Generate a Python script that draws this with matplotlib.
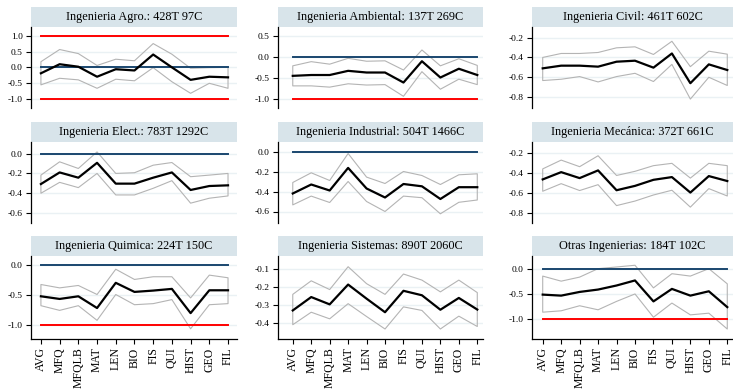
import numpy as np
import matplotlib
matplotlib.use("Agg")
import matplotlib.pyplot as plt
from matplotlib.patches import Rectangle

plt.rcParams['font.family'] = ['Liberation Serif', 'DejaVu Serif']
plt.rcParams['axes.unicode_minus'] = False

subjects = ["AVG", "MFQ", "MFQLB", "MAT", "LEN", "BIO", "FIS", "QUI", "HIST", "GEO", "FIL"]

titles = ["Ingenieria Agro.: 428T 97C",
          "Ingenieria Ambiental: 137T 269C",
          "Ingenieria Civil: 461T 602C",
          "Ingenieria Elect.: 783T 1292C",
          "Ingenieria Industrial: 504T 1466C",
          "Ingenieria Mecánica: 372T 661C",
          "Ingenieria Quimica: 224T 150C",
          "Ingenieria Sistemas: 890T 2060C",
          "Otras Ingenierias: 184T 102C"]

# point estimates
agro_mean = [-0.19, 0.10, 0.02, -0.30, -0.06, -0.10, 0.41, 0.0, -0.40, -0.30, -0.32]
ambi_mean = [-0.45, -0.43, -0.43, -0.33, -0.37, -0.37, -0.61, -0.10, -0.49, -0.28, -0.43]
civil_mean = [-0.51, -0.483, -0.483, -0.493, -0.443, -0.433, -0.503, -0.36, -0.66, -0.47, -0.527]
elect_mean = [-0.307, -0.19, -0.243, -0.093, -0.303, -0.303, -0.243, -0.19, -0.367, -0.327, -0.32]
indus_mean = [-0.42, -0.33, -0.39, -0.164, -0.37, -0.46, -0.325, -0.348, -0.475, -0.357, -0.357]
meca_mean = [-0.466, -0.394, -0.453, -0.377, -0.573, -0.53, -0.47, -0.443, -0.596, -0.433, -0.482]
quim_mean = [-0.52, -0.564, -0.52, -0.715, -0.296, -0.447, -0.425, -0.397, -0.80, -0.42, -0.42]
sist_mean = [-0.33, -0.255, -0.296, -0.185, -0.264, -0.34, -0.22, -0.245, -0.326, -0.26, -0.325]
otras_mean = [-0.513, -0.533, -0.46, -0.413, -0.333, -0.233, -0.647, -0.40, -0.533, -0.447, -0.76]

# upper CI
agro_hi = [0.18, 0.57, 0.44, 0.06, 0.26, 0.21, 0.76, 0.42, -0.03, -0.01, 0.0]
ambi_hi = [-0.21, -0.11, -0.17, -0.03, -0.10, -0.09, -0.31, 0.17, -0.21, -0.04, -0.20]
civil_hi = [-0.40, -0.36, -0.36, -0.35, -0.303, -0.293, -0.37, -0.237, -0.493, -0.337, -0.367]
elect_hi = [-0.217, -0.083, -0.15, 0.017, -0.20, -0.193, -0.117, -0.09, -0.233, -0.217, -0.20]
indus_hi = [-0.31, -0.213, -0.29, -0.02, -0.256, -0.32, -0.20, -0.24, -0.33, -0.233, -0.223]
meca_hi = [-0.362, -0.275, -0.34, -0.232, -0.427, -0.386, -0.33, -0.307, -0.453, -0.307, -0.33]
quim_hi = [-0.324, -0.38, -0.34, -0.49, -0.07, -0.24, -0.195, -0.195, -0.547, -0.168, -0.212]
sist_hi = [-0.24, -0.164, -0.213, -0.085, -0.18, -0.24, -0.126, -0.16, -0.226, -0.16, -0.23]
otras_hi = [-0.147, -0.247, -0.167, 0.0, 0.033, 0.067, -0.38, -0.10, -0.147, 0.0, -0.30]

# lower CI
agro_lo = [-0.56, -0.35, -0.40, -0.67, -0.38, -0.43, -0.01, -0.46, -0.83, -0.51, -0.67]
ambi_lo = [-0.69, -0.69, -0.72, -0.64, -0.67, -0.66, -0.94, -0.35, -0.77, -0.53, -0.66]
civil_lo = [-0.633, -0.62, -0.593, -0.647, -0.593, -0.56, -0.643, -0.47, -0.82, -0.60, -0.683]
elect_lo = [-0.40, -0.29, -0.343, -0.20, -0.417, -0.417, -0.35, -0.273, -0.50, -0.45, -0.427]
indus_lo = [-0.534, -0.446, -0.51, -0.30, -0.50, -0.60, -0.446, -0.462, -0.623, -0.508, -0.485]
meca_lo = [-0.583, -0.508, -0.576, -0.518, -0.725, -0.68, -0.62, -0.573, -0.74, -0.557, -0.63]
quim_lo = [-0.676, -0.754, -0.676, -0.92, -0.49, -0.66, -0.642, -0.575, -1.06, -0.66, -0.642]
sist_lo = [-0.41, -0.34, -0.377, -0.292, -0.364, -0.434, -0.31, -0.33, -0.434, -0.362, -0.42]
otras_lo = [-0.86, -0.833, -0.733, -0.813, -0.647, -0.50, -0.96, -0.68, -0.913, -0.88, -1.193]

means = [agro_mean, ambi_mean, civil_mean, elect_mean, indus_mean, meca_mean, quim_mean, sist_mean, otras_mean]
highs = [agro_hi, ambi_hi, civil_hi, elect_hi, indus_hi, meca_hi, quim_hi, sist_hi, otras_hi]
lows = [agro_lo, ambi_lo, civil_lo, elect_lo, indus_lo, meca_lo, quim_lo, sist_lo, otras_lo]

yticks = [[-1, -0.5, 0, 0.5, 1], [-1, -0.5, 0, 0.5], [-0.8, -0.6, -0.4, -0.2],
          [-0.6, -0.4, -0.2, 0], [-0.6, -0.4, -0.2, 0], [-0.8, -0.6, -0.4, -0.2],
          [-1, -0.5, 0], [-0.4, -0.3, -0.2, -0.1], [-1, -0.5, 0]]
ylims = [(-1.30, 1.29), (-1.22, 0.72), (-0.91, -0.093),
         (-0.70, 0.117), (-0.715, 0.095), (-0.897, -0.096),
         (-1.23, 0.15), (-0.49, -0.025), (-1.39, 0.25)]

W, H = 733, 389
col_px = [(31, 237), (278, 483), (532, 733)]
col_xlim = [(-0.53, 10.48), (-0.8, 10.31), (-0.58, 10.31)]
row_px = [(27, 108), (142, 223), (256, 339)]
title_h = 20

GRID = "#eaf1f4"
TBOX = "#d8e4ea"
NAVY = "#1a476f"

fig = plt.figure(figsize=(W / 100, H / 100), dpi=100)
x = np.arange(len(subjects))

for k in range(9):
    r, c = divmod(k, 3)
    x0, x1 = col_px[c]
    y0, y1 = row_px[r]
    ax = fig.add_axes([x0 / W, 1 - y1 / H, (x1 - x0) / W, (y1 - y0) / H])
    ax.set_xlim(col_xlim[c])
    ax.set_ylim(ylims[k])

    for t in yticks[k]:
        ax.axhline(t, color=GRID, lw=1.0, zorder=0)

    ax.fill_between(x, lows[k], highs[k], facecolor='none', edgecolor='#b4b4b4', lw=0.8, zorder=2)
    for ref, col in [(-1, 'red'), (1, 'red'), (0, NAVY)]:
        ax.plot([x[0], x[-1]], [ref, ref], color=col, lw=1.4, zorder=3)
    ax.plot(x, means[k], color='black', lw=1.6, zorder=4)

    for s in ['top', 'right']:
        ax.spines[s].set_visible(False)
    ax.spines['left'].set_linewidth(0.9)
    ax.set_yticks(yticks[k])
    ax.set_yticklabels(["%.1f" % v for v in yticks[k]])
    ax.tick_params(axis='y', labelsize=6.8, length=3.5, width=0.8, pad=2.5, colors='black')
    if r < 2:
        ax.spines['bottom'].set_visible(False)
        ax.set_xticks([])
    else:
        ax.spines['bottom'].set_linewidth(0.9)
        ax.set_xticks(x)
        ax.set_xticklabels(subjects, rotation=90, fontsize=8.5)
        ax.tick_params(axis='x', length=3.5, width=0.8, pad=2.5)

    # title strip
    tb = Rectangle((0, 1), 1, title_h / (y1 - y0), transform=ax.transAxes,
                   facecolor=TBOX, edgecolor='none', clip_on=False, zorder=1)
    ax.add_patch(tb)
    ax.text(0.5, 1 + title_h / 2 / (y1 - y0), titles[k], transform=ax.transAxes,
            ha='center', va='center', fontsize=8.8)

fig.savefig("out.png", dpi=100)
